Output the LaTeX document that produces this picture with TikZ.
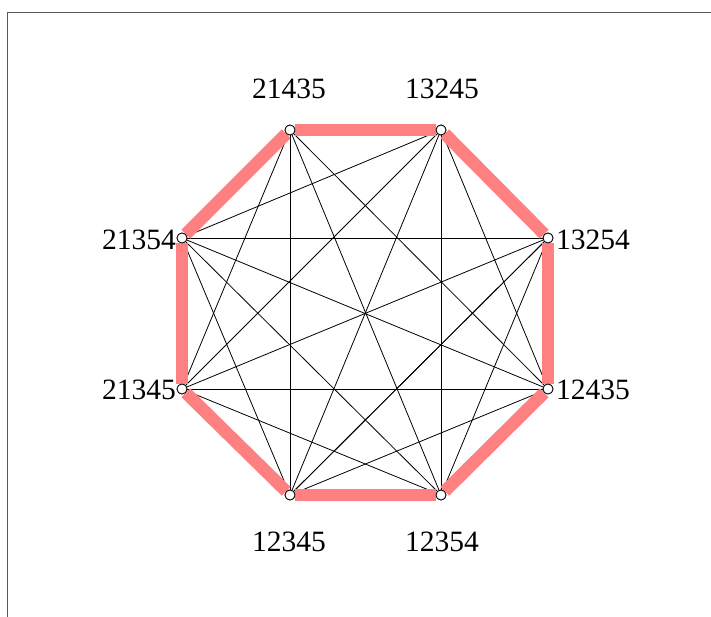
\documentclass[tikz,border=0pt]{standalone}
\usepackage{fontspec}
\setmainfont{Liberation Serif}
\begin{document}
\begin{tikzpicture}[x=1pt,y=-1pt,
  vtx/.style={circle,draw=black,fill=white,minimum size=10pt,inner sep=0pt,line width=0.8pt},
  edge/.style={line width=0.8pt,draw=black},
  hamil/.style={line width=12.5pt,draw=red!50},
  lbl/.style={font=\fontsize{29.5}{29.5}\selectfont,inner sep=0pt},
  frame/.style={draw=black!65,line width=1.8pt}]
\useasboundingbox (0,0) rectangle (711,617);
\coordinate (fa) at (7.5,617);
\coordinate (fb) at (7.5,12.5);
\coordinate (fc) at (711,12.5);
\draw[frame] (fa) -- (fb) -- (fc);
% vertices
\node[vtx] (a) at (290,130) {};
\node[vtx] (b) at (441,130) {};
\node[vtx] (c) at (548,238) {};
\node[vtx] (d) at (548,389) {};
\node[vtx] (e) at (441,495) {};
\node[vtx] (f) at (290,495) {};
\node[vtx] (g) at (182,389) {};
\node[vtx] (h) at (182,238) {};
% labels
\node[lbl] (la) at (289,89) {21435};
\node[lbl] (lb) at (442,89) {13245};
\node[lbl,anchor=west] (lc) at (556,240) {13254};
\node[lbl,anchor=west] (ld) at (556,390) {12435};
\node[lbl] (le) at (442,542) {12354};
\node[lbl] (lf) at (289,542) {12345};
\node[lbl,anchor=east] (lg) at (176,390) {21345};
\node[lbl,anchor=east] (lh) at (176,240) {21354};
% black edges
\foreach \u/\v in {a/d,a/e,a/f,a/g,b/d,b/e,b/f,b/g,b/h,c/e,c/f,c/g,c/h,d/f,d/g,d/h,e/g,e/h,f/h,f/c}
  \draw[edge] (\u) -- (\v);
% red cycle
\foreach \u/\v in {a/b,b/c,c/d,d/e,e/f,f/g,g/h,h/a}
  \draw[hamil] (\u) -- (\v);
% redraw vertices on top
\foreach \n in {a,b,c,d,e,f,g,h}
  \draw[black,fill=white,line width=0.8pt] (\n) circle (5pt);
\end{tikzpicture}
\end{document}
